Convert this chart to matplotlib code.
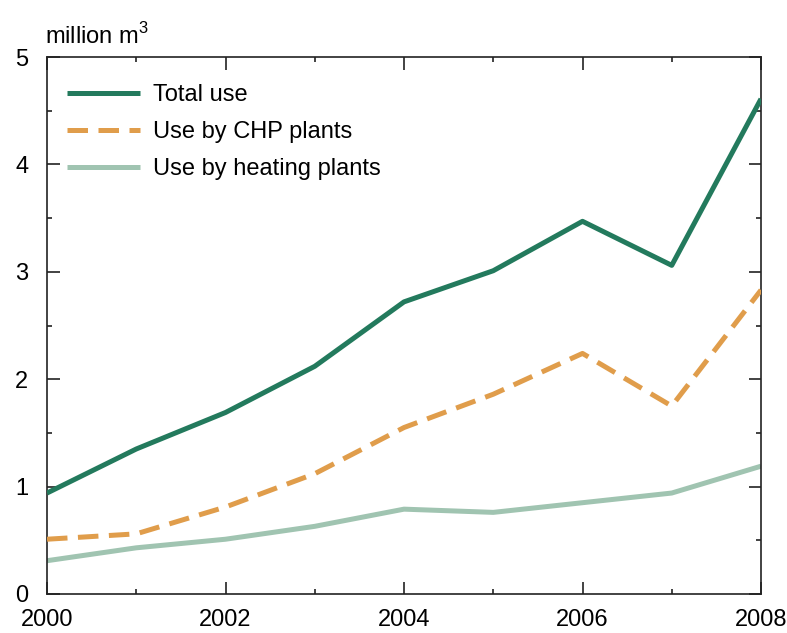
import matplotlib
matplotlib.use("Agg")
import matplotlib.pyplot as plt
from matplotlib.ticker import MultipleLocator

plt.rcParams['font.family'] = ['Liberation Sans', 'DejaVu Sans']
plt.rcParams['mathtext.fontset'] = 'custom'
plt.rcParams['mathtext.rm'] = 'Liberation Sans'

years = [2000, 2001, 2002, 2003, 2004, 2005, 2006, 2007, 2008]
total_use = [0.94, 1.35, 1.69, 2.12, 2.72, 3.01, 3.47, 3.06, 4.61]
chp_use = [0.51, 0.56, 0.81, 1.12, 1.55, 1.86, 2.24, 1.75, 2.83]
heating_use = [0.31, 0.43, 0.51, 0.63, 0.79, 0.76, 0.85, 0.94, 1.19]
series_labels = ["Total use", "Use by CHP plants", "Use by heating plants"]
x_ticks = [2000, 2002, 2004, 2006, 2008]
y_ticks = [0, 1, 2, 3, 4, 5]
unit_label = "million m$^\\mathregular{3}$"

fs = 17
fig = plt.figure(figsize=(7.87, 6.33), dpi=100)
ax = fig.add_axes([47/787, 1 - 594/633, (761 - 47)/787, (594 - 57)/633])

lw = 3.6
ax.plot(years, total_use, color="#237a5d", lw=lw, label=series_labels[0],
        solid_capstyle="butt", zorder=3)
chp_line, = ax.plot(years, chp_use, color="#e09d4b", lw=lw, label=series_labels[1],
                    zorder=3)
chp_line.set_dashes([4.1, 2.1])
ax.plot(years, heating_use, color="#a0c4b1", lw=lw, label=series_labels[2],
        solid_capstyle="butt", zorder=2)

ax.set_xlim(2000, 2008)
ax.set_ylim(0, 5)
ax.set_xticks(x_ticks)
ax.set_yticks(y_ticks)
ax.xaxis.set_minor_locator(MultipleLocator(1))
ax.yaxis.set_minor_locator(MultipleLocator(0.5))
ax.tick_params(which="both", direction="in", top=True, right=True,
               labelsize=fs, width=1.2, color="#222222")
ax.tick_params(which="major", length=9)
ax.tick_params(which="minor", length=3.8)
ax.tick_params(axis="x", pad=11)
ax.tick_params(axis="y", pad=13.5)
for s in ax.spines.values():
    s.set_linewidth(1.2)
    s.set_color("#222222")

fig.text(45/787, 1 - 36/633, unit_label, fontsize=fs, ha="left", va="center")

ax.legend(loc="upper left", frameon=False, fontsize=fs, handlelength=3.1,
          handletextpad=0.55, labelspacing=0.63, borderaxespad=0.75,
          borderpad=0.4, bbox_to_anchor=(-7/714, 1.0))

fig.savefig("out.png", dpi=100)
